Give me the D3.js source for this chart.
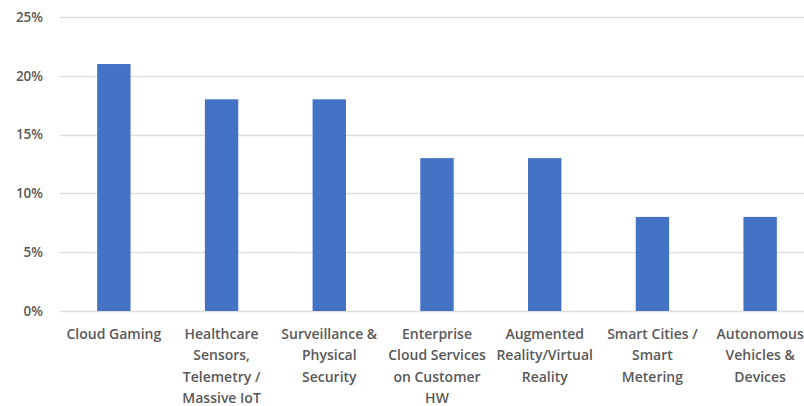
<!DOCTYPE html>
<html>
<head>
<meta charset="utf-8">
<script src="https://cdn.jsdelivr.net/npm/d3@7"></script>
<style>
  body { margin: 0; background: #fff; }
  svg text { font-family: "Open Sans", sans-serif; font-weight: 600; fill: #595959; }
</style>
</head>
<body>
<div id="chart"></div>
<script>
  // === chart data ===
  const categories = [
    "Cloud Gaming",
    "Healthcare Sensors, Telemetry / Massive IoT",
    "Surveillance & Physical Security",
    "Enterprise Cloud Services on Customer HW",
    "Augmented Reality/Virtual Reality",
    "Smart Cities / Smart Metering",
    "Autonomous Vehicles & Devices",
  ];
  // how each category label wraps
  const labelLines = [
    ["Cloud Gaming"],
    ["Healthcare", "Sensors,", "Telemetry /", "Massive IoT"],
    ["Surveillance &", "Physical", "Security"],
    ["Enterprise", "Cloud Services", "on Customer", "HW"],
    ["Augmented", "Reality/Virtual", "Reality"],
    ["Smart Cities /", "Smart", "Metering"],
    ["Autonomous", "Vehicles &", "Devices"],
  ];
  const values = [0.21, 0.18, 0.18, 0.13, 0.13, 0.08, 0.08];
  const yTicks = [0, 0.05, 0.10, 0.15, 0.20, 0.25];

  const width = 804, height = 406;
  const margin = { top: 17, right: -10, bottom: 95, left: 60 };

  const svg = d3.select("#chart").append("svg")
    .attr("width", width).attr("height", height);

  const x = d3.scaleBand()
    .domain(categories)
    .range([margin.left, width - margin.right])
    .paddingInner(0.69)
    .paddingOuter(0.345);

  const y = d3.scaleLinear()
    .domain([0, 0.25])
    .range([height - margin.bottom, margin.top]);

  // gridlines
  svg.append("g")
    .selectAll("line")
    .data(yTicks)
    .join("line")
    .attr("x1", margin.left)
    .attr("x2", width)
    .attr("y1", (d) => Math.round(y(d)) + 0.5)
    .attr("y2", (d) => Math.round(y(d)) + 0.5)
    .attr("stroke", "#dedede")
    .attr("stroke-width", 1.5);

  // y axis labels
  const yAxis = svg.append("g")
    .attr("transform", `translate(${margin.left},0)`)
    .call(d3.axisLeft(y).tickValues(yTicks).tickFormat(d3.format(".0%")).tickSize(0).tickPadding(17));
  yAxis.select(".domain").remove();
  yAxis.selectAll("text").style("font-size", "13.5px").attr("fill", "#595959");

  // bars
  svg.append("g")
    .selectAll("rect")
    .data(values)
    .join("rect")
    .attr("x", (d, i) => x(categories[i]))
    .attr("y", (d) => y(d))
    .attr("width", x.bandwidth())
    .attr("height", (d) => y(0) - y(d))
    .attr("fill", "#4472c4");

  // category labels
  const labels = svg.append("g")
    .selectAll("text")
    .data(categories)
    .join("text")
    .attr("text-anchor", "middle")
    .attr("x", (d) => x(d) + x.bandwidth() / 2)
    .attr("y", y(0) + 28)
    .style("font-size", "14px");

  labels.selectAll("tspan")
    .data((d, i) => labelLines[i])
    .join("tspan")
    .attr("x", function () { return this.parentNode.getAttribute("x"); })
    .attr("dy", (d, i) => (i === 0 ? 0 : 21.3))
    .text((d) => d);
</script>
</body>
</html>
